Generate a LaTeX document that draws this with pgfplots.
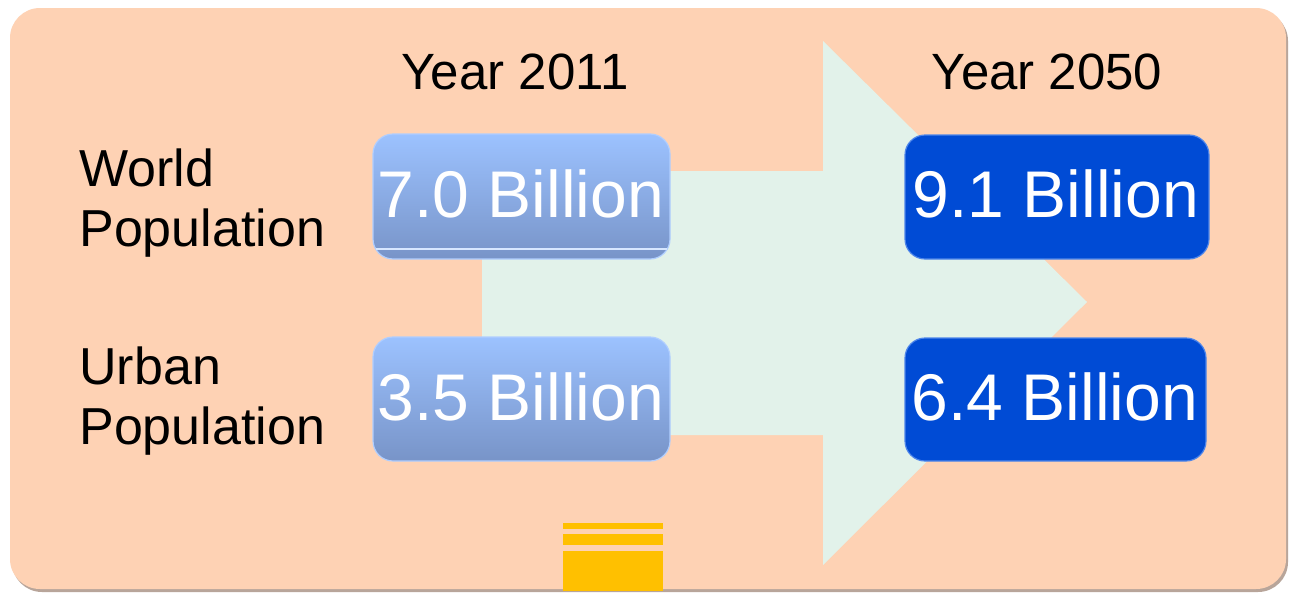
\documentclass[border=0pt]{standalone}
\usepackage{pgfplots}
\pgfplotsset{compat=1.18}
\usepackage{fontspec}
\setmainfont{Liberation Sans}

\definecolor{peach}{HTML}{FED2B4}
\definecolor{mint}{HTML}{E2F2EA}
\definecolor{lightTop}{HTML}{9CC2FF}
\definecolor{lightBot}{HTML}{7894C8}
\definecolor{darkBox}{HTML}{004BD5}
\definecolor{gold}{HTML}{FFC000}
\definecolor{shadow}{HTML}{B8A59A}

\begin{document}
\begin{tikzpicture}
\begin{axis}[scale only axis, width=644.5pt, height=297pt,
  xmin=0, xmax=1289, ymin=0, ymax=594, y dir=reverse,
  hide axis, clip=false]
% page
\addplot [fill=white, draw=none] coordinates {(0,0) (1289,0) (1289,594) (0,594)} -- cycle;
% panel shadow and panel
\addplot [fill=shadow, draw=none, rounded corners=15pt] coordinates {(12,11) (1288,11) (1288,592) (12,592)} -- cycle;
\addplot [fill=peach, draw=none, rounded corners=15pt] coordinates {(10,8) (1286,8) (1286,589) (10,589)} -- cycle;
% arrow
\addplot [fill=mint, draw=none] coordinates {(482,171) (823,171) (823,41) (1087,302) (823,565) (823,435) (482,435)} -- cycle;
% stacked stripes at the bottom
\addplot [fill=gold, draw=none] coordinates {(563,523) (663,523) (663,529) (563,529)} -- cycle;
\addplot [fill=gold, draw=none] coordinates {(563,534) (663,534) (663,545) (563,545)} -- cycle;
\addplot [fill=gold, draw=none] coordinates {(563,551) (663,551) (663,591) (563,591)} -- cycle;
% year 2011 boxes
\addplot [top color=lightTop, bottom color=lightBot, draw=lightTop!80!white, line width=0.6pt, rounded corners=10pt] coordinates {(373,134) (670,134) (670,259) (373,259)} -- cycle;
\addplot [draw=lightTop!40!white, line width=0.8pt] coordinates {(376,249) (667,249)};
\addplot [top color=lightTop, bottom color=lightBot, draw=lightTop!80!white, line width=0.6pt, rounded corners=10pt] coordinates {(373,337) (670,337) (670,461) (373,461)} -- cycle;
% year 2050 boxes
\addplot [fill=darkBox, draw=darkBox!50!lightTop, line width=0.6pt, rounded corners=10pt] coordinates {(905,135) (1209,135) (1209,259) (905,259)} -- cycle;
\addplot [fill=darkBox, draw=darkBox!50!lightTop, line width=0.6pt, rounded corners=10pt] coordinates {(905,338) (1206,338) (1206,461) (905,461)} -- cycle;
% texts
\begin{scope}[every node/.style={inner sep=0pt, font=\fontsize{25.5}{30}\selectfont}]
\node[anchor=base] at (axis cs:515,89) {Year 2011};
\node[anchor=base] at (axis cs:1047,89) {Year 2050};
\end{scope}
\begin{scope}[every node/.style={inner sep=0pt, font=\fontsize{26}{30}\selectfont}]
\node[anchor=base west] at (axis cs:79,186) {World};
\node[anchor=base west] at (axis cs:79,246) {Population};
\node[anchor=base west] at (axis cs:79,384) {Urban};
\node[anchor=base west] at (axis cs:79,444) {Population};
\end{scope}
\begin{scope}[every node/.style={inner sep=0pt, text=white, font=\fontsize{33}{38}\selectfont}]
\node[anchor=base] at (axis cs:521,217) {7.0 Billion};
\node[anchor=base] at (axis cs:521,420) {3.5 Billion};
\node[anchor=base] at (axis cs:1056,217) {9.1 Billion};
\node[anchor=base] at (axis cs:1055,420) {6.4 Billion};
\end{scope}
\end{axis}
\end{tikzpicture}
\end{document}
